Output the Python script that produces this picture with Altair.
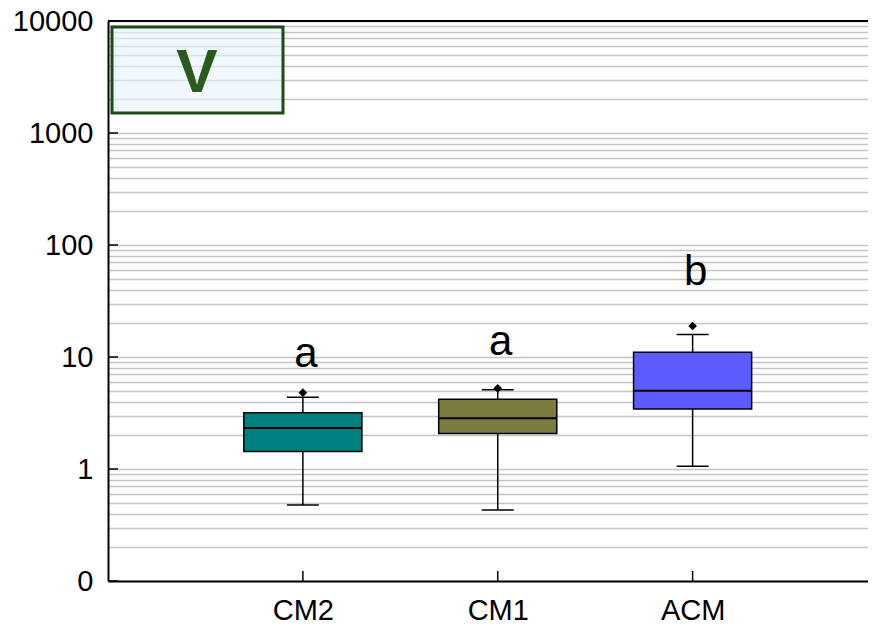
import altair as alt
import pandas as pd

categories = ["CM2", "CM1", "ACM"]
positions = [1, 2, 3]
whisker_low = [0.477, 0.43, 1.06]
q1 = [1.43, 2.08, 3.43]
median = [2.32, 2.84, 5.00]
q3 = [3.18, 4.19, 11.0]
whisker_high = [4.37, 5.10, 15.9]
outliers = [4.80, 5.25, 18.9]
letters = ["a", "a", "b"]
letter_y = [8.1, 10.4, 44.0]
colors = ["#008080", "#7b7b3f", "#5b5bff"]
y_ticks = [0.1, 1, 10, 100, 1000, 10000]
grid_values = [m * 10 ** k for k in range(-1, 4) for m in range(1, 10)] + [10000]
panel_tag = "V"

W, H = 760, 560

df = pd.DataFrame({
    "cat": categories, "pos": positions, "lo": whisker_low, "q1": q1,
    "med": median, "q3": q3, "hi": whisker_high, "out": outliers,
    "letter": letters, "ly": letter_y,
})

yscale = alt.Scale(type="log", domain=[0.1, 10000], nice=False)
xscale = alt.Scale(domain=[0, 3.9], nice=False, zero=False)

label_expr_x = " : ".join(
    [f"datum.value == {p} ? '{c}'" for p, c in zip(positions[:-1], categories[:-1])]
    + [f"'{categories[-1]}'"]
)
decade_test = " || ".join([f"datum.value == {v}" for v in y_ticks])
label_expr_y = f"({decade_test}) ? (datum.value < 1 ? '0' : format(datum.value, 'd')) : ''"

xaxis = alt.Axis(values=positions, labelExpr=label_expr_x, ticks=False, grid=False,
                 title=None, labelFontSize=29, labelPadding=15, domainColor="black",
                 domainWidth=2, labelColor="black", labelFont="Liberation Sans")
yaxis = alt.Axis(values=grid_values, labelExpr=label_expr_y, ticks=False, grid=True,
                 gridColor="#c4c4c4", gridWidth=1.5, title=None, labelFontSize=29,
                 labelPadding=15, labelOverlap=False, domainColor="black",
                 domainWidth=2, labelColor="black", labelFont="Liberation Sans")


def X(f):
    return alt.X(f, scale=xscale, axis=xaxis)


def Y(f):
    return alt.Y(f, scale=yscale, axis=yaxis)


base = alt.Chart(df).transform_calculate(
    cl="datum.pos - 0.082", cr="datum.pos + 0.082",
    bl="datum.pos - 0.303", br="datum.pos + 0.303",
)

whisk = base.mark_rule(color="black", strokeWidth=1.5).encode(
    x=X("pos:Q"), y=Y("lo:Q"), y2="hi:Q",
)
cap_lo = base.mark_rule(color="black", strokeWidth=1.5).encode(
    x=X("cl:Q"), x2="cr:Q", y=Y("lo:Q"),
)
cap_hi = base.mark_rule(color="black", strokeWidth=1.5).encode(
    x=X("cl:Q"), x2="cr:Q", y=Y("hi:Q"),
)
box = base.mark_rect(stroke="black", strokeWidth=1.5).encode(
    x=X("bl:Q"), x2="br:Q", y=Y("q1:Q"), y2="q3:Q",
    color=alt.Color("cat:N", scale=alt.Scale(domain=categories, range=colors), legend=None),
)
med = base.mark_rule(color="black", strokeWidth=2).encode(
    x=X("bl:Q"), x2="br:Q", y=Y("med:Q"),
)
outl = base.mark_point(shape="diamond", filled=True, size=75, color="black", opacity=1).encode(
    x=X("pos:Q"), y=Y("out:Q"),
)
txt = base.mark_text(fontSize=42, font="Liberation Sans", color="black",
                     baseline="alphabetic", align="center", dx=3).encode(
    x=X("pos:Q"), y=Y("ly:Q"), text="letter:N",
)

ytick_df = pd.DataFrame({"v": y_ticks})
yticks = alt.Chart(ytick_df).mark_rule(color="black", strokeWidth=1.5).encode(
    y=Y("v:Q"), x=alt.value(0), x2=alt.value(10),
)
xtick_df = pd.DataFrame({"pos": positions})
xticks = alt.Chart(xtick_df).mark_rule(color="black", strokeWidth=1.5).encode(
    x=X("pos:Q"), y=alt.value(H), y2=alt.value(H - 10),
)

one = alt.Data(values=[{"t": panel_tag}])
top_line = alt.Chart(one).mark_rule(color="black", strokeWidth=2).encode(
    x=alt.value(0), x2=alt.value(W), y=alt.value(0),
)
tag_box = alt.Chart(one).mark_rect(fill="#e6f2fb", fillOpacity=0.6, stroke="#1e4a16",
                                   strokeWidth=3).encode(
    x=alt.value(4), x2=alt.value(175), y=alt.value(6), y2=alt.value(92),
)
tag_txt = alt.Chart(one).mark_text(fontSize=62, fontWeight="bold", font="Liberation Sans",
                                   color="#2a5a1e", baseline="middle", align="center").encode(
    x=alt.value(89), y=alt.value(52), text="t:N",
)

chart = alt.layer(
    whisk, cap_lo, cap_hi, box, med, outl, txt, yticks, xticks, top_line, tag_box, tag_txt
).properties(
    width=W, height=H, autosize="none",
    padding={"left": 100, "top": 13, "right": 0, "bottom": 46},
).configure_view(stroke=None).configure(font="Liberation Sans")

chart.save("out.html", embed_options={"renderer": "svg", "actions": False})
